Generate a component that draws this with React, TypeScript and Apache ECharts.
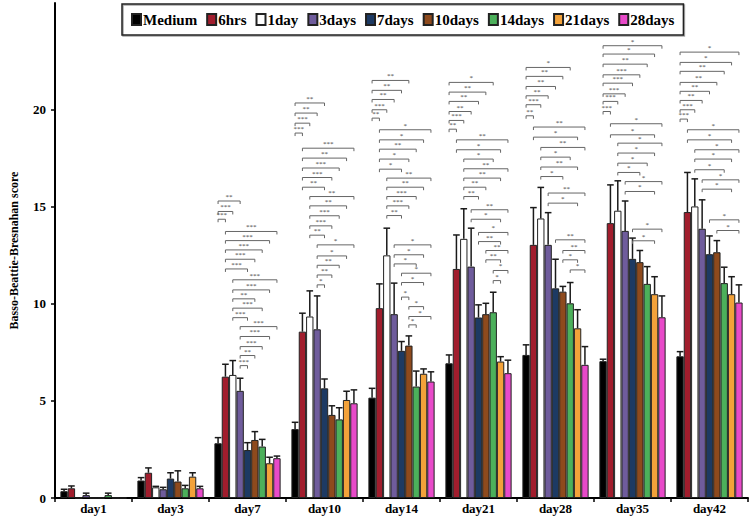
import React, { useEffect, useRef } from "react";
import * as echarts from "echarts";

const categories = ["day1", "day3", "day7", "day10", "day14", "day21", "day28", "day35", "day42"];
const seriesNames = ["Medium", "6hrs", "1day", "3days", "7days", "10days", "14days", "21days", "28days"];
const colors = ["#000000", "#a11d2d", "#ffffff", "#6f5c9c", "#1d3a63", "#8e4a1d", "#4cb05b", "#f3a23a", "#e84ac9"];
const yTicks = [0, 5, 10, 15, 20];

// means
const medium = [0.35, 0.9, 2.82, 3.55, 5.17, 6.94, 7.37, 7.05, 7.3];
const hrs6 = [0.5, 1.3, 6.25, 8.57, 9.78, 11.8, 13.04, 14.16, 14.73];
const day1 = [0, 0.55, 6.34, 9.35, 12.5, 13.35, 14.4, 14.8, 15.02];
const days3 = [0.15, 0.45, 5.52, 8.69, 9.47, 11.92, 13.04, 13.76, 13.87];
const days7 = [0, 1.0, 2.47, 5.65, 7.58, 9.3, 10.8, 12.32, 12.56];
const days10 = [0, 0.85, 2.99, 4.28, 7.85, 9.47, 10.63, 12.15, 12.66];
const days14 = [0.15, 0.5, 2.65, 4.05, 5.74, 9.57, 10.03, 11.03, 11.07];
const days21 = [0, 1.1, 1.79, 5.05, 6.4, 7.03, 8.74, 10.5, 10.5];
const days28 = [0, 0.5, 2.05, 4.88, 6.0, 6.43, 6.86, 9.31, 10.07];

// error (upper) amounts
const mediumErr = [0.1, 0.15, 0.29, 0.35, 0.48, 0.43, 0.52, 0.1, 0.24];
const hrs6Err = [0.12, 0.25, 0.64, 0.95, 1.25, 1.75, 1.92, 1.97, 2.04];
const day1Err = [0, 0.05, 0.74, 1.32, 1.4, 1.55, 1.6, 1.54, 1.42];
const days3Err = [0.1, 0.1, 0.65, 1.72, 1.6, 1.98, 1.66, 1.54, 1.49];
const days7Err = [0, 0.3, 0.38, 0.48, 0.48, 0.65, 1.5, 1.07, 0.94];
const days10Err = [0, 0.55, 0.43, 0.47, 0.5, 0.56, 0.27, 0.6, 0.6];
const days14Err = [0.1, 0.15, 0.37, 0.6, 0.8, 1.03, 1.07, 0.89, 0.82];
const days21Err = [0, 0.2, 0.31, 0.45, 0.25, 0.25, 0.96, 0.9, 0.9];
const days28Err = [0, 0.1, 0.11, 0.69, 0.5, 0.67, 0.94, 1.1, 0.91];

// significance brackets: [fromSeries, toSeries, level, label]
const bracketsDay7 = [
  [0, 3, 15.3, "**"], [0, 2, 14.76, "***"], [0, 1, 14.36, "***"],
  [1, 8, 13.73, "***"], [1, 7, 13.26, "***"], [1, 6, 12.78, "***"], [1, 5, 12.3, "***"], [1, 4, 11.8, "***"],
  [2, 8, 11.24, "***"], [2, 7, 10.72, "***"], [2, 5, 10.26, "**"], [2, 6, 9.78, "***"], [2, 4, 9.29, "***"],
  [3, 8, 8.83, "***"], [3, 7, 8.32, "***"], [3, 6, 7.8, "***"], [3, 5, 7.34, "**"], [3, 4, 6.82, "***"],
];
const bracketsDay10 = [
  [0, 4, 20.35, "**"], [0, 3, 19.83, "**"], [0, 2, 19.31, "***"], [0, 1, 18.8, "***"],
  [1, 8, 18.02, "***"], [1, 7, 17.51, "**"], [1, 6, 17.0, "***"], [1, 5, 16.51, "***"], [1, 4, 16.01, "**"],
  [2, 8, 15.53, "**"], [2, 7, 15.05, "**"], [2, 6, 14.54, "***"], [2, 5, 14.02, "***"], [2, 4, 13.54, "**"],
  [3, 8, 13.04, "*"], [3, 7, 12.47, "*"], [3, 6, 11.99, "**"], [3, 5, 11.49, "**"], [3, 4, 10.98, "*"],
];
const bracketsDay14 = [
  [0, 5, 21.51, "**"], [0, 4, 21.0, "**"], [0, 3, 20.53, "**"], [0, 2, 20.0, "***"], [0, 1, 19.57, "**"],
  [1, 8, 18.97, "*"], [1, 7, 18.45, "*"], [1, 6, 17.97, "**"], [1, 5, 17.46, "*"], [1, 4, 16.94, "*"],
  [2, 8, 16.48, "**"], [2, 7, 16.01, "**"], [2, 6, 15.53, "***"], [2, 5, 15.05, "***"], [2, 4, 14.55, "**"],
  [3, 8, 13.04, "*"], [3, 7, 12.53, "*"], [3, 6, 12.06, "*"],
  [4, 8, 11.58, "*"], [4, 7, 11.1, "*"], [4, 5, 10.35, "*"],
  [5, 7, 9.86, "*"], [5, 8, 9.35, "*"], [5, 6, 8.92, "*"],
];
const bracketsDay21 = [
  [0, 6, 21.41, "*"], [0, 5, 20.91, "**"], [0, 4, 20.43, "**"], [0, 3, 19.91, "**"], [0, 2, 19.45, "***"], [0, 1, 19.0, "**"],
  [1, 8, 18.45, "**"], [1, 7, 17.94, "*"],
  [2, 6, 17.46, "*"], [2, 8, 16.96, "**"], [2, 7, 16.48, "**"], [2, 5, 16.01, "**"], [2, 4, 15.53, "**"],
  [3, 8, 14.85, "**"], [3, 7, 14.36, "*"],
  [4, 8, 13.68, "*"], [4, 7, 13.21, "**"],
  [5, 8, 12.75, "**"], [5, 7, 12.27, "**"],
  [6, 8, 11.72, "*"], [6, 7, 11.2, "*"],
];
const bracketsDay28 = [
  [0, 6, 22.18, "*"], [0, 5, 21.72, "**"], [0, 4, 21.2, "**"], [0, 3, 20.72, "**"], [0, 2, 20.26, "***"], [0, 1, 19.69, "**"],
  [1, 8, 19.11, "**"], [1, 7, 18.59, "*"],
  [2, 8, 18.06, "**"], [2, 6, 17.56, "*"], [2, 7, 17.05, "**"], [2, 5, 16.56, "*"],
  [3, 8, 15.71, "**"], [3, 7, 15.19, "*"],
  [4, 8, 13.3, "**"], [5, 8, 12.75, "**"], [5, 7, 12.27, "*"], [6, 8, 11.75, "*"],
];
const bracketsDay35 = [
  [0, 8, 23.3, "*"], [0, 7, 22.87, "*"], [0, 6, 22.35, "**"], [0, 5, 21.8, "***"], [0, 4, 21.37, "***"], [0, 3, 20.82, "***"], [0, 2, 20.43, "***"], [0, 1, 19.91, "***"],
  [1, 8, 19.28, "*"], [1, 7, 18.71, "*"],
  [2, 8, 18.28, "*"], [2, 7, 17.77, "*"], [2, 6, 17.25, "*"], [2, 5, 16.77, "*"],
  [3, 8, 16.3, "*"], [3, 7, 15.79, "*"],
  [4, 8, 13.85, "*"], [4, 7, 13.25, "*"],
];
const bracketsDay42 = [
  [0, 8, 22.97, "*"], [0, 7, 22.44, "*"], [0, 6, 21.98, "**"], [0, 5, 21.41, "**"], [0, 4, 20.95, "**"], [0, 3, 20.48, "**"], [0, 2, 20.0, "***"], [0, 1, 19.52, "***"],
  [1, 8, 18.97, "*"], [1, 7, 18.45, "*"],
  [2, 8, 17.94, "*"], [2, 7, 17.46, "*"], [2, 6, 16.91, "*"],
  [3, 8, 16.39, "*"], [3, 7, 15.91, "*"],
  [4, 8, 14.33, "*"], [5, 8, 13.78, "*"],
];

const means = [medium, hrs6, day1, days3, days7, days10, days14, days21, days28];
const errs = [mediumErr, hrs6Err, day1Err, days3Err, days7Err, days10Err, days14Err, days21Err, days28Err];
const bracketSets: [number, any[][]][] = [
  [2, bracketsDay7], [3, bracketsDay10], [4, bracketsDay14], [5, bracketsDay21],
  [6, bracketsDay28], [7, bracketsDay35], [8, bracketsDay42],
];

const GAP = 0.14;
const FONT = "Liberation Serif, Times New Roman, serif";

function barX(api: any, cat: number, si: number) {
  const c = api.coord([cat, 0]);
  const band = api.size([1, 0])[0];
  const inner = band * (1 - GAP);
  const bw = inner / seriesNames.length;
  return { x: c[0] - inner / 2 + bw * (si + 0.5), bw };
}

export default function App() {
  const ref = useRef<HTMLDivElement>(null);
  useEffect(() => {
    if (!ref.current) return;
    const chart = echarts.init(ref.current, null, { renderer: "svg" });

    const barSeries = seriesNames.map((name, si) => ({
      name,
      type: "bar",
      data: means[si],
      barGap: "0%",
      barCategoryGap: `${GAP * 100}%`,
      itemStyle: { color: colors[si], borderColor: "#222", borderWidth: 1 },
      z: 2,
    }));

    const errSeries = seriesNames.map((name, si) => ({
      name: name + "-err",
      type: "custom",
      z: 3,
      data: categories.map((_, ci) => [ci, means[si][ci], errs[si][ci]]),
      encode: { x: 0, y: 1 },
      renderItem: (params: any, api: any) => {
        const ci = api.value(0);
        const v = api.value(1);
        const e = api.value(2);
        if (!(e > 0)) return null;
        const { x, bw } = barX(api, ci, si);
        const y0 = api.coord([ci, v])[1];
        const y1 = api.coord([ci, v + e])[1];
        const st = { stroke: "#1a1a1a", lineWidth: 1.5 };
        return {
          type: "group",
          children: [
            { type: "line", shape: { x1: x, y1: y0, x2: x, y2: y1 }, style: st },
            { type: "line", shape: { x1: x - bw * 0.45, y1: y1, x2: x + bw * 0.45, y2: y1 }, style: st },
          ],
        };
      },
    }));

    const brackets: any[] = [];
    bracketSets.forEach(([ci, list]) => list.forEach((b) => brackets.push([ci, ...b])));

    const bracketSeries = {
      name: "brackets",
      type: "custom",
      z: 4,
      data: brackets.map((b) => [b[0], b[3]]),
      encode: { x: 0, y: 1 },
      renderItem: (params: any, api: any) => {
        const b = brackets[params.dataIndex];
        const ci = b[0];
        const a = barX(api, ci, b[1]).x;
        const c = barX(api, ci, b[2]).x;
        const y = api.coord([ci, b[3]])[1];
        const tick = 3;
        return {
          type: "group",
          children: [
            {
              type: "polyline",
              shape: { points: [[a, y + tick], [a, y], [c, y], [c, y + tick]] },
              style: { stroke: "#666", lineWidth: 1, fill: "none" },
            },
            {
              type: "text",
              x: (a + c) / 2,
              y: y - 0.5,
              style: {
                text: b[4],
                fill: "#444",
                font: `7px ${FONT}`,
                align: "center",
                verticalAlign: "bottom",
                textAlign: "center",
                textVerticalAlign: "bottom",
              },
            },
          ],
        };
      },
    };

    chart.setOption({
      animation: false,
      backgroundColor: "#ffffff",
      grid: { left: 47, right: 4, top: 3, bottom: 21, containLabel: false },
      legend: {
        data: seriesNames,
        left: 122,
        top: 4,
        width: 580,
        padding: [8, 9, 8, 9],
        itemWidth: 9,
        itemHeight: 11,
        itemGap: 9,
        icon: "rect",
        borderColor: "#222",
        borderWidth: 1.5,
        shadowColor: "rgba(0,0,0,0.35)",
        shadowOffsetX: 1,
        shadowOffsetY: 1,
        shadowBlur: 1,
        textStyle: { fontFamily: FONT, fontWeight: "bold", fontSize: 15, color: "#000", padding: [0, 0, 0, -3] },
      },
      xAxis: {
        type: "category",
        data: categories,
        axisLine: { lineStyle: { color: "#000", width: 2 } },
        axisTick: { show: true, length: 4, lineStyle: { color: "#000", width: 1.5 } },
        axisLabel: { fontFamily: FONT, fontWeight: "bold", fontSize: 13, color: "#000", margin: 4, interval: 0 },
      },
      yAxis: {
        type: "value",
        min: 0,
        max: 25.5,
        name: "Basso-Beattie-Bresnahan score",
        nameLocation: "middle",
        nameGap: 35,
        nameTextStyle: { fontFamily: FONT, fontWeight: "bold", fontSize: 12, color: "#000" },
        axisLine: { show: true, lineStyle: { color: "#000", width: 2 } },
        axisTick: { show: true, length: 4, customValues: yTicks, lineStyle: { color: "#000", width: 1.5 } },
        axisLabel: { fontFamily: FONT, fontWeight: "bold", fontSize: 13, color: "#000", margin: 9, customValues: yTicks },
        splitLine: { show: false },
      },
      series: [...barSeries, ...errSeries, bracketSeries],
    });
    return () => chart.dispose();
  }, []);
  return (
    <div
      ref={ref}
      style={{ position: "fixed", left: 0, top: 0, width: 752, height: 519, background: "#fff" }}
    />
  );
}
